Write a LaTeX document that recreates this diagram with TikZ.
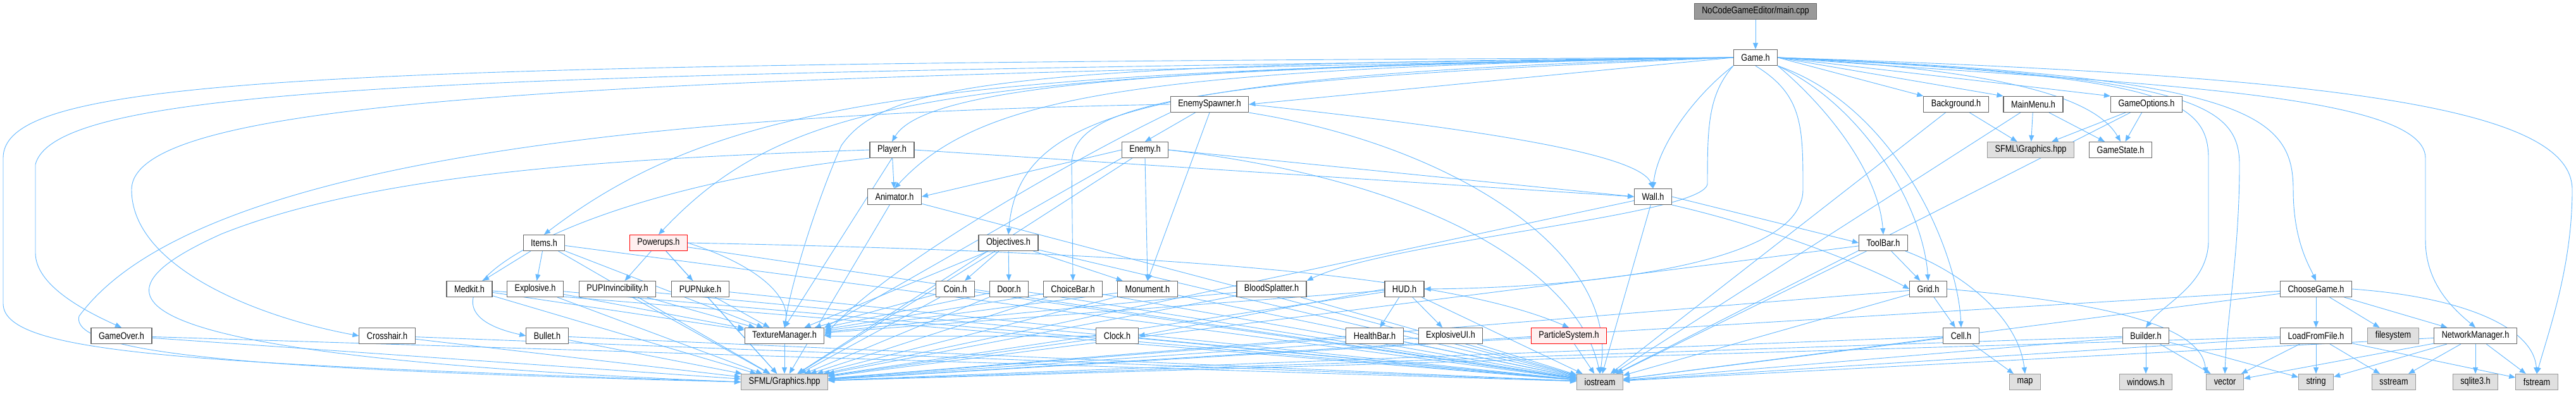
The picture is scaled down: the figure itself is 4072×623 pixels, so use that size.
\documentclass[tikz,border=0pt]{standalone}
\usepackage{fontspec}
\setmainfont{Liberation Sans}[FakeStretch=0.83]
\usetikzlibrary{arrows.meta}
\definecolor{depblue}{HTML}{63B8FF}
\definecolor{hdrline}{HTML}{666666}
\definecolor{sysline}{HTML}{999999}
\definecolor{sysfill}{HTML}{E0E0E0}
\definecolor{redfill}{HTML}{FFF0F0}
\pgfdeclarelayer{paper}
\pgfdeclarelayer{edges}
\pgfsetlayers{paper,edges,main}

\begin{document}
\begin{tikzpicture}[x=1pt,y=-1pt,
  hdr/.style={rectangle, draw=hdrline, fill=white, line width=1.2pt,
    minimum height=25pt, inner xsep=12pt, inner ysep=0pt,
    font=\fontsize{15.3}{16}\selectfont},
  sysh/.style={hdr, draw=sysline, fill=sysfill},
  redh/.style={hdr, draw=red, fill=redfill},
  srch/.style={hdr, fill=sysline},
  dep/.style={draw=depblue, line width=0.9pt, -{Triangle[length=10pt,width=8pt]}}
]
\begin{pgfonlayer}{paper}
\useasboundingbox[fill=white] (0,0) rectangle (4072,623);
\end{pgfonlayer}

% rank 0 and 1
\path (2775,18) node[srch] (main) {NoCodeGameEditor/main.cpp};
\path (2775,91) node[hdr] (game) {Game.h};

% rank 2
\path (1912,165) node[hdr] (spawner) {EnemySpawner.h};
\path (3092,165) node[hdr] (backgr) {Background.h};
\path (3214,165) node[hdr] (mainmenu) {MainMenu.h};
\path (3393,165) node[hdr] (gameopt) {GameOptions.h};

% rank 3
\path (1410,237) node[hdr] (player) {Player.h};
\path (1810,237) node[hdr] (enemy) {Enemy.h};
\path (3210,237) node[sysh] (sfmlb) {SFML\textbackslash Graphics.hpp};
\path (3352,237) node[hdr] (gstate) {GameState.h};

% rank 4
\path (1414,311) node[hdr] (animator) {Animator.h};
\path (2613,311) node[hdr] (wall) {Wall.h};

% rank 5
\path (860,384) node[hdr] (items) {Items.h};
\path (1041,384) node[redh] (powerups) {Powerups.h};
\path (1594,384) node[hdr] (objectives) {Objectives.h};
\path (2977,384) node[hdr] (toolbar) {ToolBar.h};

% rank 6
\path (742,457) node[hdr] (medkit) {Medkit.h};
\path (846,457) node[hdr] (explosive) {Explosive.h};
\path (976,457) node[hdr] (pupinv) {PUPInvincibility.h};
\path (1107,457) node[hdr] (pupnuke) {PUPNuke.h};
\path (1510,457) node[hdr] (coin) {Coin.h};
\path (1595,457) node[hdr] (door) {Door.h};
\path (1696,457) node[hdr] (choicebar) {ChoiceBar.h};
\path (1814,457) node[hdr] (monument) {Monument.h};
\path (2010,457) node[hdr] (blood) {BloodSplatter.h};
\path (2220,457) node[hdr] (hud) {HUD.h};
\path (3048,457) node[hdr] (grid) {Grid.h};
\path (3661,457) node[hdr] (choose) {ChooseGame.h};

% rank 7
\path (192,531) node[hdr] (gameover) {GameOver.h};
\path (612,531) node[hdr] (crosshair) {Crosshair.h};
\path (865,531) node[hdr] (bullet) {Bullet.h};
\path (1240,531) node[hdr] (texman) {TextureManager.h};
\path (1766,531) node[hdr] (clock) {Clock.h};
\path (2173,531) node[hdr] (health) {HealthBar.h};
\path (2293,531) node[hdr] (explui) {ExplosiveUI.h};
\path (2480,531) node[redh] (particle) {ParticleSystem.h};
\path (3100,531) node[hdr] (cell) {Cell.h};
\path (3392,531) node[hdr] (builder) {Builder.h};
\path (3661,531) node[hdr] (loadff) {LoadFromFile.h};
\path (3783,531) node[sysh] (filesys) {filesystem};
\path (3913,531) node[hdr] (netman) {NetworkManager.h};

% rank 8: system headers
\path (1240,604) node[sysh] (sfml) {SFML/Graphics.hpp};
\path (2529,604) node[sysh] (iostream) {iostream};
\path (3201,604) node[sysh] (map) {map};
\path (3392,604) node[sysh] (windows) {windows.h};
\path (3517,604) node[sysh] (vector) {vector};
\path (3661,604) node[sysh] (string) {string};
\path (3784,604) node[sysh] (sstream) {sstream};
\path (3913,604) node[sysh] (sqlite) {sqlite3.h};
\path (4010,604) node[sysh] (fstream) {fstream};

\begin{pgfonlayer}{edges}
% main.cpp and Game.h
\draw[dep] (main) -- (game);
\draw[dep] (game.west) .. controls (500,100) and (5,120) .. (5,250) -- (5,480)
  .. controls (5,560) and (300,575) .. (sfml.west);
\draw[dep] (game.west) .. controls (800,118) and (90,128) .. (56,260) -- (56,400)
  .. controls (56,450) and (130,490) .. (gameover.north);
\draw[dep] (game.west) .. controls (1000,122) and (208,150) .. (208,300)
  .. controls (208,420) and (400,500) .. (crosshair.west);
\draw[dep] (game.west) .. controls (1500,112) and (1150,150) .. (items.north);
\draw[dep] (game.west) .. controls (1500,114) and (1250,150) .. (powerups.north);
\draw[dep] (game.west) .. controls (1600,100) and (1400,130) .. (1330,230)
  .. controls (1290,320) and (1250,450) .. (texman.north);
\draw[dep] (game.west) .. controls (1800,104) and (1460,140) .. (player.north);
\draw[dep] (game.west) .. controls (1800,108) and (1550,150) .. (animator.north);
\draw[dep] (game.west) .. controls (1800,118) and (1610,180) .. (objectives.north);
\draw[dep] (game.west) .. controls (1900,125) and (1694,160) .. (1694,260) -- (choicebar.north);
\draw[dep] (game.west) -- (spawner.east);
\draw[dep] (game.south west) .. controls (2680,150) and (2620,230) .. (wall.north);
\draw[dep] (game.south west) .. controls (2700,150) and (2699,200) .. (2699,290)
  .. controls (2699,340) and (2200,380) .. (blood.north east);
\draw[dep] (game.south) .. controls (2850,150) and (2850,200) .. (2850,300)
  .. controls (2850,420) and (2500,455) .. (hud.east);
\draw[dep] (game.south east) .. controls (2900,180) and (2970,280) .. (toolbar.north);
\draw[dep] (game.south east) .. controls (2950,170) and (3040,330) .. (grid.north);
\draw[dep] (game.south east) .. controls (3000,170) and (3095,400) .. (cell.north);
\draw[dep] (game.east) -- (backgr.north west);
\draw[dep] (game.east) -- (mainmenu.north west);
\draw[dep] (game.east) -- (gameopt.north west);
\draw[dep] (game.east) .. controls (3150,110) and (3310,150) .. (gstate.north);
\draw[dep] (game.east) .. controls (3400,120) and (3491,150) .. (3491,250) -- (3491,380)
  .. controls (3491,450) and (3420,480) .. (builder.north);
\draw[dep] (game.east) .. controls (3450,120) and (3540,160) .. (3540,260)
  .. controls (3540,400) and (3520,500) .. (vector.north);
\draw[dep] (game.east) .. controls (3550,120) and (3625,180) .. (3625,300)
  .. controls (3625,380) and (3650,420) .. (choose.north);
\draw[dep] (game.east) .. controls (3300,130) and (3834,140) .. (3834,250) -- (3834,380)
  .. controls (3834,450) and (3880,490) .. (netman.north);
\draw[dep] (game.east) .. controls (3700,120) and (4066,170) .. (4066,300)
  .. controls (4066,420) and (4030,520) .. (fstream.north);

% EnemySpawner.h, Player.h, Enemy.h
\draw[dep] (spawner) -- (enemy.north);
\draw[dep] (spawner.south) -- (monument.north);
\draw[dep] (spawner.east) .. controls (2300,200) and (2590,240) .. (wall.north);
\draw[dep] (spawner.west) .. controls (1000,180) and (300,260) .. (125,500)
  .. controls (110,560) and (400,585) .. (sfml.west);
\draw[dep] (spawner.south east) .. controls (2300,230) and (2560,400) .. (iostream.north);
\draw[dep] (spawner.south west) .. controls (1700,250) and (1400,420) .. (texman.east);
\draw[dep] (player) -- (animator);
\draw[dep] (player.east) -- (wall.west);
\draw[dep] (player.south west) .. controls (900,300) and (600,480) .. (bullet.west);
\draw[dep] (player.west) .. controls (1000,250) and (600,270) .. (350,370)
  .. controls (150,460) and (100,560) .. (sfml.west);
\draw[dep] (player.south) -- (texman.north);
\draw[dep] (enemy.west) -- (animator.east);
\draw[dep] (enemy.east) -- (wall.west);
\draw[dep] (enemy.east) .. controls (2300,290) and (2500,450) .. (iostream.north);
\draw[dep] (enemy.south) -- (monument.north);
\draw[dep] (enemy.south west) -- (texman.north east);
\draw[dep] (enemy) -- (sfml);

% one level down
\draw[dep] (wall.east) -- (toolbar.west);
\draw[dep] (wall.south east) .. controls (2800,360) and (2950,420) .. (grid.west);
\draw[dep] (items) -- (medkit);
\draw[dep] (items) -- (explosive);
\draw[dep] (powerups) -- (pupinv);
\draw[dep] (powerups) -- (pupnuke);
\draw[dep] (powerups.east) .. controls (1200,420) and (1250,470) .. (texman.north);
\draw[dep] (powerups.east) .. controls (1900,400) and (2300,440) .. (particle.north);
\draw[dep] (objectives) -- (coin);
\draw[dep] (objectives) -- (door);
\draw[dep] (objectives) -- (monument);
\draw[dep] (hud) -- (health);
\draw[dep] (hud) -- (explui);
\draw[dep] (hud.west) -- (clock.east);
\draw[dep] (toolbar) -- (grid);
\draw[dep] (toolbar) .. controls (3100,430) and (3190,500) .. (map.north);
\draw[dep] (grid) -- (cell);
\draw[dep] (grid.east) .. controls (3350,480) and (3480,520) .. (vector.north west);
\draw[dep] (cell) -- (map);
\draw[dep] (backgr) -- (sfmlb);
\draw[dep] (mainmenu) -- (sfmlb);
\draw[dep] (gameopt) -- (sfmlb);
\draw[dep] (mainmenu) -- (gstate);
\draw[dep] (gameopt) -- (gstate);
\draw[dep] (choose) -- (loadff);
\draw[dep] (choose) -- (filesys);
\draw[dep] (choose) -- (netman);
\draw[dep] (choose.east) .. controls (3900,470) and (4005,520) .. (fstream.north);
\draw[dep] (builder) -- (windows);
\draw[dep] (builder) -- (vector);
\draw[dep] (builder) -- (string);
\foreach \dst in {vector,string,sstream,fstream}
  \draw[dep] (loadff) -- (\dst);
\foreach \dst in {vector,string,sstream,sqlite,fstream}
  \draw[dep] (netman) -- (\dst);

% the three shared headers
\foreach \src in {medkit,explosive,pupinv,pupnuke,items,coin,door,choicebar,
    monument,objectives,blood,hud,clock}
  \draw[dep] (\src) -- (texman);
\foreach \src in {gameover,crosshair,bullet,medkit,explosive,pupinv,pupnuke,items,
    powerups,animator,objectives,coin,door,choicebar,monument,clock,blood,hud,health,
    explui,particle,wall,toolbar,grid,cell,builder,choose,loadff,texman}
  \draw[dep] (\src) -- (sfml);
\foreach \src in {gameover,crosshair,bullet,medkit,explosive,pupinv,pupnuke,items,
    powerups,animator,objectives,coin,door,choicebar,monument,clock,blood,hud,health,
    explui,particle,wall,toolbar,grid,cell,builder,choose,loadff,netman,backgr,
    mainmenu,gameopt}
  \draw[dep] (\src) -- (iostream);
\end{pgfonlayer}
\end{tikzpicture}
\end{document}
